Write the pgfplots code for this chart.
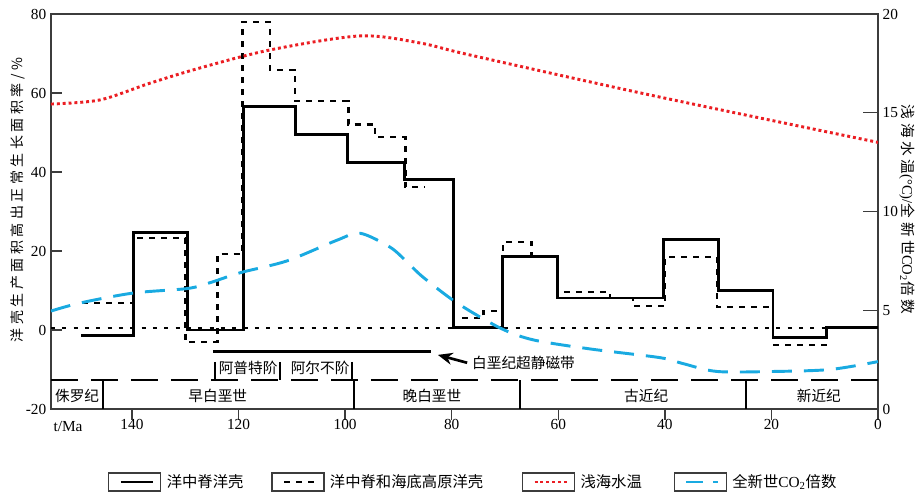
\documentclass[border=0pt]{standalone}
\usepackage{fontspec}
\setmainfont{Liberation Serif}
\newfontfamily\cjk{Noto Sans CJK SC}
\newfontfamily\cjkls[LetterSpace=25]{Noto Sans CJK SC}
\usepackage{pgfplots}
\pgfplotsset{compat=1.18}
\usetikzlibrary{arrows.meta}
\definecolor{seared}{RGB}{235,30,35}
\definecolor{coblue}{RGB}{25,170,225}
\definecolor{axgray}{RGB}{60,60,60}

\begin{document}
\begin{tikzpicture}
\begin{axis}[
  name=main,
  at={(0pt,0pt)}, anchor=south west,
  scale only axis, width=620.25pt, height=296.25pt,
  x dir=reverse, xmin=0, xmax=155.2, ymin=-20, ymax=80,
  axis line style={line width=1.1pt, axgray},
  every tick/.style={line width=1.1pt, axgray},
  tick align=inside, major tick length=8pt,
  xtick={0,20,40,60,80,100,120,140},
  xticklabels={0,20,40,60,80,100,120,140},
  ytick={-20,0,20,40,60,80},
  yticklabels={-20,0,20,40,60,80},
  xtick pos=left, ytick pos=left,
  xtick style={yshift=-8pt},
  xticklabel style={yshift=-4pt},
  ticklabel style={font=\fontsize{11.5}{13}\selectfont},
  /pgf/number format/assume math mode=true,
  ylabel={\cjkls 洋壳生产面积高出正常生长面积率/\%},
  ylabel style={at={(axis description cs:-0.040,0.529)}, anchor=center, font=\fontsize{10.5}{12}\selectfont},
]
% bottom time scale band
\addplot[black, line width=1.9pt, dash pattern=on 20pt off 10pt] coordinates {(155.2,-12.7) (0,-12.7)};
\addplot[black, line width=1.1pt] coordinates {(145.4,-12.7) (145.4,-20)};
\addplot[black, line width=1.1pt] coordinates {(98.3,-12.7) (98.3,-20)};
\addplot[black, line width=1.1pt] coordinates {(67.2,-12.7) (67.2,-20)};
\addplot[black, line width=1.1pt] coordinates {(24.8,-12.7) (24.8,-20)};
% stage brackets
\addplot[black, line width=1.1pt] coordinates {(124.4,-8.1) (124.4,-12.7)};
\addplot[black, line width=1.1pt] coordinates {(112.2,-8.1) (112.2,-12.7)};
\addplot[black, line width=1.1pt] coordinates {(98.7,-8.1) (98.7,-12.7)};
% Cretaceous normal superchron
\addplot[black, line width=2.2pt] coordinates {(124.8,-5.4) (83.9,-5.4)};
% zero reference line
\addplot[black, line width=1.9pt, dash pattern=on 3pt off 5.5pt] coordinates {(155.2,0.5) (0,0.5)};
% mid-ocean ridge + plateau crust (dashed)
\addplot[black, line width=2pt, dash pattern=on 4.5pt off 4.5pt, const plot] coordinates {
(149.3,6.8) (139.8,23.3) (130.0,-3.0) (124.0,19.2) (119.3,78.0) (114.1,65.8) (109.4,58.0)
(99.4,52.0) (94.4,48.9) (88.7,36.2) (85.0,36.2)};
\addplot[black, line width=2pt, dash pattern=on 4.5pt off 4.5pt, const plot] coordinates {
(78.0,3.0) (74.0,4.8) (70.4,22.3) (65.0,18.7) (60.2,9.6) (50.3,8.1) (46.0,6.1) (40.0,18.5)
(30.2,5.8) (19.7,-3.8) (9.6,-3.8)};
% mid-ocean ridge crust (solid)
\addplot[black, line width=2.2pt, const plot] coordinates {
(149.5,-1.5) (139.8,24.6) (129.5,0) (119.1,56.5) (109.4,49.6) (99.6,42.5) (88.9,38.0)
(79.7,0.6) (70.4,18.7) (60.2,8.1) (40.3,22.8) (30.0,9.9) (19.7,-2.0) (9.6,0.6) (0,0.6)};
% annotations
\node[font=\cjk\fontsize{11}{13}\selectfont] at (axis cs:150.3,-16.7) {侏罗纪};
\node[font=\cjk\fontsize{11}{13}\selectfont] at (axis cs:123.9,-16.7) {早白垩世};
\node[font=\cjk\fontsize{11}{13}\selectfont] at (axis cs:83.7,-16.7) {晚白垩世};
\node[font=\cjk\fontsize{11}{13}\selectfont] at (axis cs:43.5,-16.7) {古近纪};
\node[font=\cjk\fontsize{11}{13}\selectfont] at (axis cs:11.1,-16.7) {新近纪};
\node[font=\cjk\fontsize{11}{13}\selectfont] at (axis cs:118.2,-9.6) {阿普特阶};
\node[font=\cjk\fontsize{11}{13}\selectfont] at (axis cs:104.7,-9.6) {阿尔不阶};
\node[font=\cjk\fontsize{11}{13}\selectfont, anchor=west, inner sep=0pt] at (axis cs:76.2,-8.35) {白垩纪超静磁带};
\draw[-{Stealth[length=11pt,width=9pt]}, line width=2pt] (axis cs:77.1,-8.3) -- (axis cs:82.6,-6.3);
\end{axis}

\begin{axis}[
  at={(0pt,0pt)}, anchor=south west,
  scale only axis, width=620.25pt, height=296.25pt,
  x dir=reverse, xmin=0, xmax=155.2, ymin=0, ymax=20,
  hide x axis,
  axis line style={draw=none},
  every tick/.style={line width=1.1pt, axgray},
  ytick={0,5,10,15,20}, yticklabels={0,5,10,15,20},
  ytick pos=right, tick align=inside, major tick length=11pt,
  ticklabel style={font=\fontsize{11.5}{13}\selectfont},
  /pgf/number format/assume math mode=true,
  ylabel={{\cjkls 浅海水温}(°C)/{\cjkls 全新世}CO\textsubscript{2}{\cjkls 倍数}},
  ylabel style={at={(axis description cs:1.035,0.505)}, anchor=center, rotate=180, font=\fontsize{11}{13}\selectfont},
  legend columns=4,
  legend cell align=left,
  legend style={at={(axis description cs:0,0)}, anchor=west, xshift=42.75pt, yshift=-54.75pt,
    draw=none, fill=none, inner sep=0pt, font=\fontsize{11.5}{13}\selectfont,
    /tikz/every even column/.append style={column sep=19pt},
    /tikz/every odd column/.append style={column sep=2pt}},
  legend image code/.code={
    \draw[axgray, line width=0.9pt, solid] (0pt,-6.75pt) rectangle (39pt,6.75pt);
    \draw[#1] (9pt,0pt) -- (33pt,0pt);
  },
]
\addlegendimage{black, line width=2.2pt}
\addlegendentry{\cjk 洋中脊洋壳}
\addlegendimage{black, line width=2pt, dash pattern=on 4.5pt off 4.5pt}
\addlegendentry{{\cjk 洋中脊和海底高原洋壳}\hspace*{8pt}}
\addlegendimage{seared, line width=2.2pt, dash pattern=on 2.2pt off 2.2pt}
\addlegendentry{{\cjk 浅海水温}\hspace*{3pt}}
\addlegendimage{coblue, line width=2.2pt, dash pattern=on 12.75pt off 7.5pt}
\addlegendentry{{\cjk 全新世}CO\textsubscript{2}{\cjk 倍数}}
% shallow sea temperature
\addplot[seared, line width=2.2pt, dash pattern=on 2.2pt off 2.2pt, smooth, forget plot] coordinates {
(155.2,15.44) (146,15.65) (136.6,16.5) (127.2,17.27) (114.1,18.18) (97.2,18.89) (85.9,18.53)
(76.5,17.92) (42.8,15.9) (0,13.5)};
% CO2 multiple
\addplot[coblue, line width=2.2pt, dash pattern=on 15pt off 9pt, smooth, forget plot] coordinates {
(155.2,4.96) (149.7,5.37) (139.8,5.87) (129.6,6.1) (125.3,6.4) (119.7,6.9) (110.9,7.5)
(101.5,8.55) (97.2,8.9) (91.6,8.2) (88.4,7.45) (85.4,6.68) (79.0,5.37) (70.9,4.1) (64.7,3.5)
(54.0,3.04) (40.9,2.6) (36.6,2.3) (30.2,1.9) (19.7,1.9) (9.0,2.0) (0,2.4)};
\end{axis}
\node[font=\fontsize{11.5}{13}\selectfont] at (12.75pt,-13.5pt) {t/Ma};
\pgfresetboundingbox
\path[use as bounding box] (-38.25pt,-63pt) rectangle (654pt,306.75pt);
\end{tikzpicture}
\end{document}
